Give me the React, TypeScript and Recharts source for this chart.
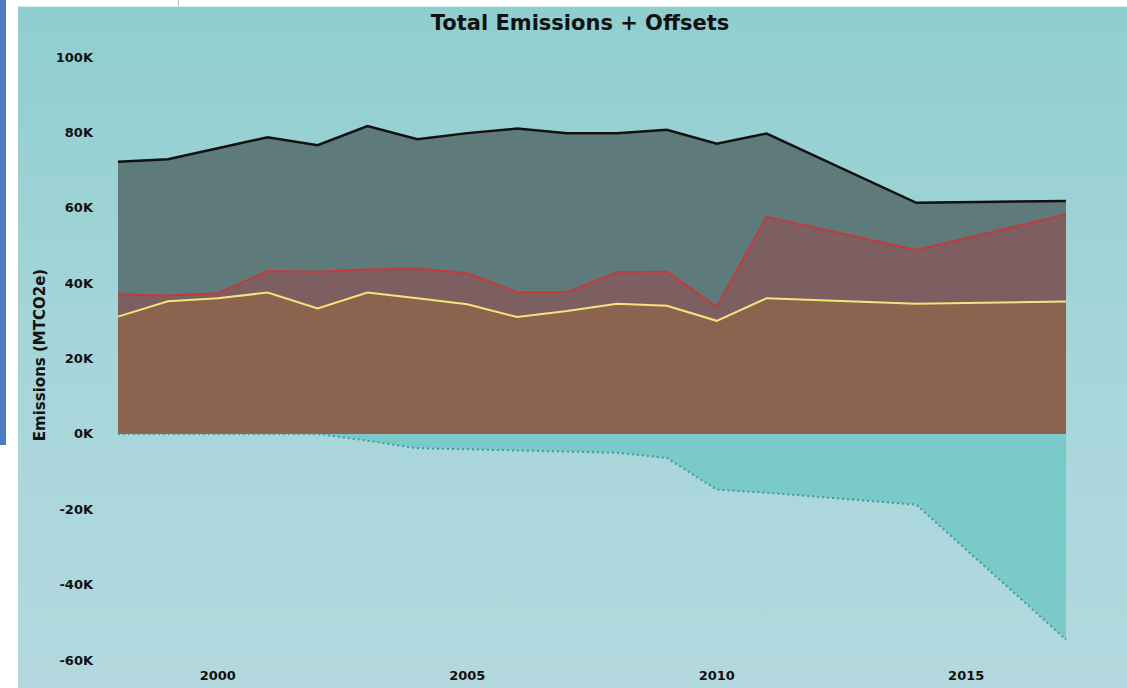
import { AreaChart, Area, XAxis, YAxis } from 'recharts';

// emissions by year, MTCO2e (2012, 2013, 2015, 2016 not reported)
const years = [1998, 1999, 2000, 2001, 2002, 2003, 2004, 2005, 2006, 2007, 2008, 2009, 2010, 2011, 2014, 2017];
const totalEmissions = [72200, 72900, 75800, 78700, 76600, 81700, 78200, 79800, 81000, 79800, 79800, 80700, 77000, 79700, 61300, 61800];
const scope12Emissions = [37000, 36700, 37300, 43200, 43000, 43600, 43900, 42600, 37600, 37600, 42900, 43000, 33700, 57600, 48800, 58200];
const scope1Emissions = [31100, 35200, 36000, 37500, 33300, 37500, 36000, 34400, 31000, 32600, 34500, 34000, 30000, 36000, 34500, 35100];
const offsets = [0, 0, 0, 0, 0, -1800, -3800, -4100, -4400, -4700, -5000, -6400, -14800, -15600, -18800, -54600];

const xTicks = [2000, 2005, 2010, 2015];
const yTicks = [-60000, -40000, -20000, 0, 20000, 40000, 60000, 80000, 100000];

const rows = years.map((year, i) => ({
    year,
    total: totalEmissions[i],
    scope12: scope12Emissions[i],
    scope1: scope1Emissions[i],
    offsets: offsets[i],
}));

const font = '"DejaVu Sans", Verdana, sans-serif';
const tickStyle = { fill: '#111', fontSize: 13, fontWeight: 700, fontFamily: font };

export default function App() {
    return (
        <div style={{ position: 'absolute', left: 0, top: 0, width: 1127, height: 688, background: '#fff', overflow: 'hidden', fontFamily: font }}>
            <div style={{ position: 'absolute', left: 0, top: 0, width: 6, height: 445, background: '#4d7cc0' }} />
            <div style={{ position: 'absolute', left: 178, top: 0, width: 1, height: 6, background: '#bbb' }} />
            <div style={{ position: 'absolute', left: 18, top: 6, width: 1109, height: 1, background: '#d4ecee' }} />
            <div style={{ position: 'absolute', left: 18, top: 7, width: 1109, height: 681, background: 'linear-gradient(#8fcecf, #a6d5d9 50%, #b3d9df)' }}>
                <div style={{ position: 'absolute', left: 262, top: 6, width: 600, textAlign: 'center', fontSize: 21, lineHeight: '21px', fontWeight: 700, color: '#111' }}>
                    Total Emissions + Offsets
                </div>
                <div style={{ position: 'absolute', left: 22, top: 348, transform: 'translate(-50%, -50%) rotate(-90deg)', whiteSpace: 'nowrap', fontSize: 15, fontWeight: 700, color: '#111' }}>
                    Emissions (MTCO2e)
                </div>
                <AreaChart width={1109} height={681} data={rows} margin={{ top: 50, right: 61, bottom: 0, left: 0 }}>
                    <XAxis
                        dataKey="year"
                        type="number"
                        domain={[1998, 2017]}
                        ticks={xTicks}
                        interval={0}
                        axisLine={false}
                        tickLine={false}
                        tickMargin={5}
                        height={28}
                        tick={tickStyle}
                    />
                    <YAxis
                        type="number"
                        domain={[-60000, 100000]}
                        ticks={yTicks}
                        interval={0}
                        axisLine={false}
                        tickLine={false}
                        tickMargin={19}
                        width={100}
                        tick={tickStyle}
                        tickFormatter={(v: number) => `${v / 1000}K`}
                    />
                    <Area type="linear" dataKey="total" stroke="#111" strokeWidth={2.5} fill="#5f7a7a" fillOpacity={1} dot={false} activeDot={false} isAnimationActive={false} />
                    <Area type="linear" dataKey="scope12" stroke="#c23a3c" strokeWidth={2} fill="#7e5f61" fillOpacity={1} dot={false} activeDot={false} isAnimationActive={false} />
                    <Area type="linear" dataKey="scope1" stroke="#f5e47a" strokeWidth={2} fill="#8b6450" fillOpacity={1} dot={false} activeDot={false} isAnimationActive={false} />
                    <Area type="linear" dataKey="offsets" stroke="#3e9b9b" strokeWidth={2} strokeDasharray="2 3" fill="#7bcaca" fillOpacity={1} dot={false} activeDot={false} isAnimationActive={false} />
                </AreaChart>
            </div>
        </div>
    );
}
